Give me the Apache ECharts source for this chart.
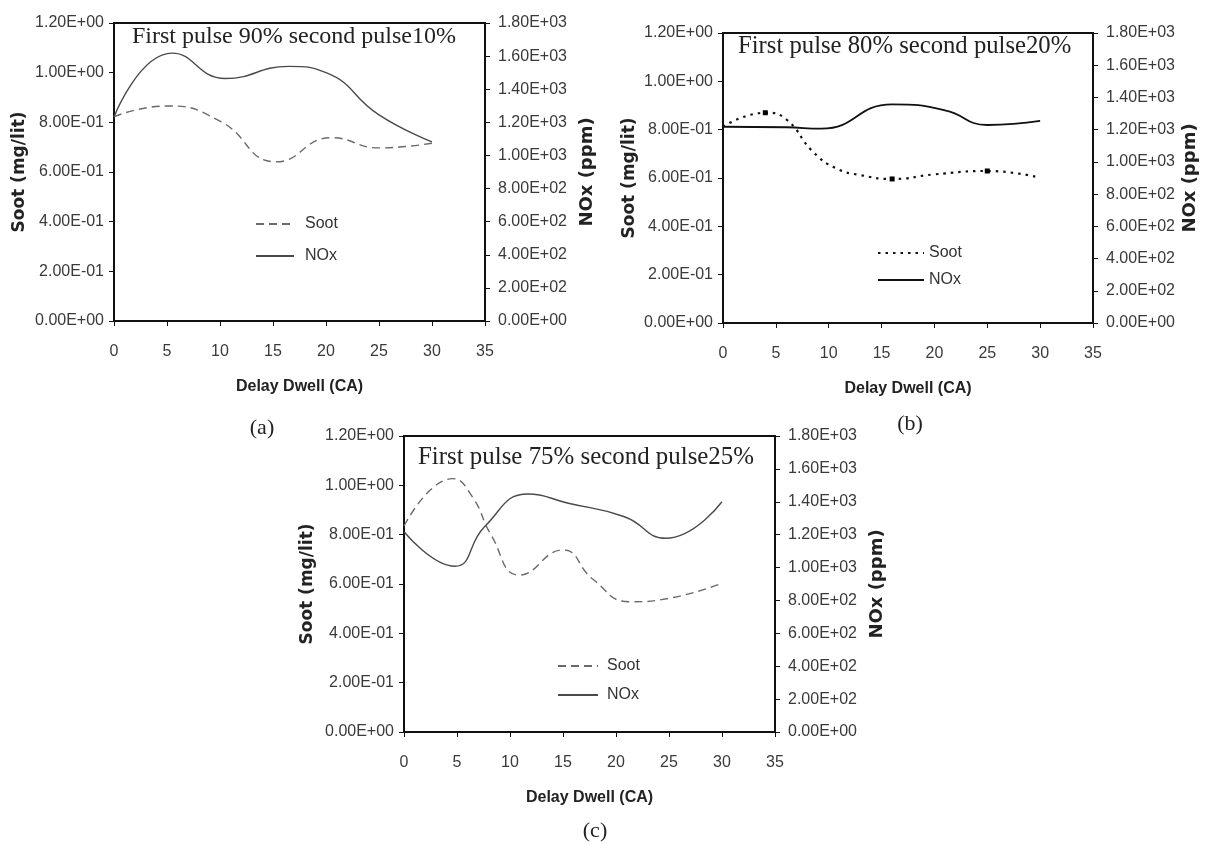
<!DOCTYPE html>
<html>
<head>
<meta charset="utf-8">
<script src="https://cdn.jsdelivr.net/npm/echarts@6/dist/echarts.min.js"></script>
<style>
  html, body { margin: 0; padding: 0; background: #ffffff; }
  #chart { width: 1208px; height: 844px; }
</style>
</head>
<body>
<div id="chart"></div>
<script>
// Axis tick labels
const dwellTicks = [0, 5, 10, 15, 20, 25, 30, 35];
const sootTickLabels = ['0.00E+00', '2.00E-01', '4.00E-01', '6.00E-01', '8.00E-01', '1.00E+00', '1.20E+00'];
const noxTickLabels = ['0.00E+00', '2.00E+02', '4.00E+02', '6.00E+02', '8.00E+02', '1.00E+03',
                       '1.20E+03', '1.40E+03', '1.60E+03', '1.80E+03'];

// Panel headings and tags
const panelTitles = ['First pulse 90% second pulse10%', 'First pulse 80% second pulse20%', 'First pulse 75% second pulse25%'];
const panelTags = ['(a)', '(b)', '(c)'];
const legendNames = ['Soot', 'NOx'];

// (a) first pulse 90% / second pulse 10%   [delay dwell (CA), value]
const sootA = [[0, 0.823], [5, 0.866], [10, 0.805], [15.3, 0.641], [20.5, 0.738], [25, 0.697], [30, 0.716]];
const noxA  = [[0, 1232], [5.5, 1618], [10.5, 1465], [16.5, 1538], [20, 1500], [25, 1245], [30, 1082]];

// (b) first pulse 80% / second pulse 20%
const sootB = [[0, 0.812], [4, 0.870], [6, 0.842], [8.5, 0.709], [10.7, 0.640], [13, 0.612],
               [16, 0.596], [20, 0.615], [25, 0.629], [30, 0.601]];
const sootBMarkers = [4, 16, 25];
const noxB  = [[0, 1218], [6, 1215], [9.3, 1206], [16, 1357], [21, 1320], [25, 1229], [30, 1254]];

// (c) first pulse 75% / second pulse 25%
const sootC = [[0, 0.835], [4.6, 1.027], [6.5, 0.95], [8.2, 0.80], [10.9, 0.636], [15, 0.738],
               [17.8, 0.62], [21.3, 0.528], [25, 0.542], [30, 0.603]];
const noxC  = [[0, 1218], [4.8, 1008], [7.6, 1248], [11.7, 1447], [15.5, 1391], [20.8, 1309], [24.7, 1178], [30, 1400]];

const SANS = "'Liberation Sans', Arial, sans-serif";
const SERIF = "'Liberation Serif', 'Times New Roman', serif";
const BOLD_SANS = "'DejaVu Sans', 'Liberation Sans', sans-serif";
const INK = '#111111';
const LABEL = '#3a3a3a';

const panels = [
  {
    box: { left: 114, top: 23, width: 371, height: 298 },
    soot: sootA, nox: noxA, markers: [],
    sootLine: { color: '#6a6a6a', width: 1.4, type: [8, 5] },
    noxLine: { color: '#4a4a4a', width: 1.4, type: 'solid' },
    legend: { left: 255, top: 216, itemWidth: 38, itemGap: 16, textGap: 6 },
    titlePos: [132, 37], titleSize: 24, tagPos: [262, 428],
    leftGap: 86, rightGap: 93
  },
  {
    box: { left: 723, top: 33, width: 370, height: 290 },
    soot: sootB, nox: noxB, markers: sootBMarkers,
    sootLine: { color: '#111111', width: 2.2, type: [2.5, 5] },
    noxLine: { color: '#111111', width: 1.8, type: 'solid' },
    legend: { left: 877, top: 245, itemWidth: 46, itemGap: 11, textGap: 0 },
    titlePos: [738, 47], titleSize: 24.7, tagPos: [910, 424],
    leftGap: 85, rightGap: 88
  },
  {
    box: { left: 404, top: 436, width: 371, height: 296 },
    soot: sootC, nox: noxC, markers: [],
    sootLine: { color: '#6a6a6a', width: 1.4, type: [8, 5] },
    noxLine: { color: '#4a4a4a', width: 1.4, type: 'solid' },
    legend: { left: 557, top: 658, itemWidth: 40, itemGap: 13, textGap: 4 },
    titlePos: [418, 457], titleSize: 24.9, tagPos: [595, 831],
    leftGap: 88, rightGap: 93
  }
];

const grid = [], xAxis = [], yAxis = [], series = [], legend = [], graphic = [];

panels.forEach((p, i) => {
  grid.push(Object.assign({ show: true, borderColor: INK, borderWidth: 2, backgroundColor: 'transparent' }, p.box));

  xAxis.push({
    gridIndex: i, type: 'value', min: dwellTicks[0], max: dwellTicks[dwellTicks.length - 1], interval: 5,
    axisLine: { onZero: false, lineStyle: { color: INK, width: 2 } },
    axisTick: { show: true, length: 5, lineStyle: { color: INK, width: 1 } },
    splitLine: { show: false },
    axisLabel: { margin: 23, color: LABEL, fontSize: 16, fontFamily: SANS },
    name: 'Delay Dwell (CA)', nameLocation: 'middle', nameGap: 58,
    nameTextStyle: { color: '#222', fontSize: 16, fontWeight: 'bold', fontFamily: SANS }
  });

  yAxis.push({
    gridIndex: i, type: 'value', position: 'left', min: 0, max: 1.2, interval: 0.2,
    axisLine: { show: true, lineStyle: { color: INK, width: 2 } },
    axisTick: { show: true, length: 5, lineStyle: { color: INK, width: 1 } },
    splitLine: { show: false },
    axisLabel: { margin: 10, color: LABEL, fontSize: 16, fontFamily: SANS,
                 formatter: v => sootTickLabels[Math.round(v / 0.2)] },
    name: 'Soot (mg/lit)', nameLocation: 'middle', nameGap: p.leftGap,
    nameTextStyle: { color: '#222', fontSize: 17, fontWeight: 'bold', fontFamily: BOLD_SANS }
  });

  yAxis.push({
    gridIndex: i, type: 'value', position: 'right', min: 0, max: 1800, interval: 200,
    axisLine: { show: true, lineStyle: { color: INK, width: 2 } },
    axisTick: { show: true, length: 5, lineStyle: { color: INK, width: 1 } },
    splitLine: { show: false },
    axisLabel: { margin: 13, color: LABEL, fontSize: 16, fontFamily: SANS,
                 formatter: v => noxTickLabels[Math.round(v / 200)] },
    name: 'NOx (ppm)', nameLocation: 'middle', nameGap: p.rightGap, nameRotate: 90,
    nameTextStyle: { color: '#222', fontSize: 18, fontWeight: 'bold', fontFamily: BOLD_SANS }
  });

  const tag = ' ' + panelTags[i];
  const sootData = p.soot.map(pt => p.markers.indexOf(pt[0]) >= 0
    ? { value: pt, symbol: 'rect', symbolSize: 5, itemStyle: { color: '#000', borderWidth: 0 } }
    : pt);

  series.push({
    type: 'line', name: legendNames[0] + tag, xAxisIndex: i, yAxisIndex: 2 * i,
    data: sootData, smooth: 0.5, symbol: 'none', showSymbol: true,
    lineStyle: p.sootLine, itemStyle: { color: p.sootLine.color }, silent: true
  });
  series.push({
    type: 'line', name: legendNames[1] + tag, xAxisIndex: i, yAxisIndex: 2 * i + 1,
    data: p.nox, smooth: 0.5, symbol: 'none',
    lineStyle: p.noxLine, itemStyle: { color: p.noxLine.color }, silent: true
  });

  legend.push({
    orient: 'vertical', left: p.legend.left, top: p.legend.top, padding: 0,
    itemWidth: p.legend.itemWidth, itemHeight: 14, itemGap: p.legend.itemGap,
    data: [legendNames[0] + tag, legendNames[1] + tag],
    formatter: n => n.split(' ')[0],
    selectedMode: false,
    itemStyle: { opacity: 0 },
    textStyle: { color: '#333', fontSize: 16, fontFamily: SANS, padding: [0, 0, 0, p.legend.textGap] }
  });

  graphic.push({
    type: 'text', x: p.titlePos[0], y: p.titlePos[1], silent: true,
    style: { text: panelTitles[i], fill: '#222', font: p.titleSize + 'px ' + SERIF, align: 'left', verticalAlign: 'middle' }
  });
  graphic.push({
    type: 'text', x: p.tagPos[0], y: p.tagPos[1], silent: true,
    style: { text: panelTags[i], fill: '#222', font: '22px ' + SERIF, align: 'center', verticalAlign: 'middle' }
  });
});

const chart = echarts.init(document.getElementById('chart'), null, { renderer: 'canvas' });
chart.setOption({
  backgroundColor: '#ffffff',
  animation: false,
  grid, xAxis, yAxis, series, legend, graphic
});
</script>
</body>
</html>
